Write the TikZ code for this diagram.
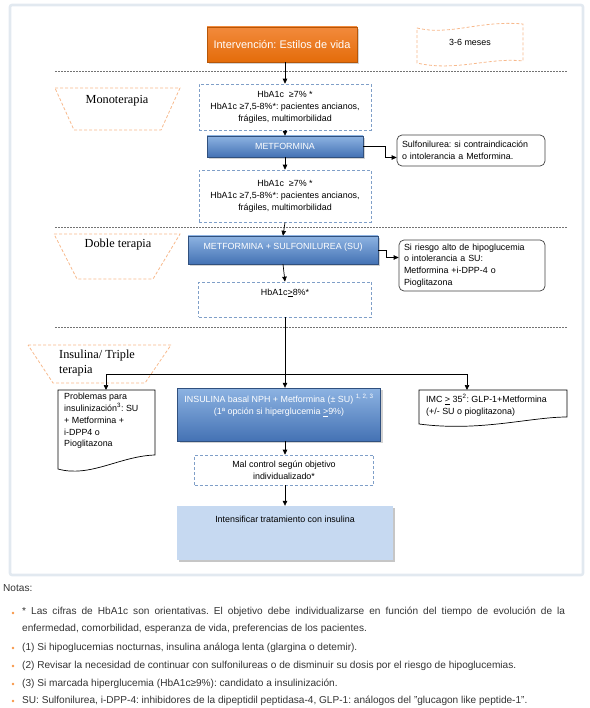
\documentclass[tikz,border=0pt]{standalone}
\usepackage{fontspec}
\setmainfont{Liberation Sans}
\newfontfamily\serifft{Liberation Serif}
\usetikzlibrary{arrows.meta,shadows,calc}
\frenchspacing
\definecolor{orfill}{HTML}{E46C0A}
\definecolor{ortop}{HTML}{F28A3C}
\definecolor{ordash}{HTML}{F7B98C}
\definecolor{bltop}{HTML}{8DB3E2}
\definecolor{blbot}{HTML}{4472B4}
\definecolor{bldash}{HTML}{7F9FC8}
\definecolor{lightbl}{HTML}{C6D9F1}
\definecolor{framec}{HTML}{E2E9F0}
\definecolor{notec}{HTML}{333333}
\definecolor{dotc}{HTML}{F79646}
\tikzset{
  fsmall/.style={font=\fontsize{8.9}{11.8}\selectfont},
  orbox/.style={rectangle, draw=orfill!80!black, line width=0.4pt, top color=ortop, bottom color=orfill, text=white, font=\fontsize{11}{13}\selectfont, drop shadow={shadow xshift=2pt, shadow yshift=-2pt, opacity=0.35}},
  blbox/.style={rectangle, draw=blbot!70!black, line width=0.4pt, top color=bltop, bottom color=blbot, text=white, fsmall, drop shadow={shadow xshift=2pt, shadow yshift=-2pt, opacity=0.35}},
  dbox/.style={rectangle, draw=bldash, dash pattern=on 3pt off 2pt, line width=0.6pt, fsmall, align=center},
  rbox/.style={rectangle, rounded corners=5pt, draw=black!75, line width=0.7pt, fsmall, align=left},
  txt/.style={fsmall, align=left, inner sep=0pt},
  trap/.style={draw=ordash, dash pattern=on 3pt off 2pt, line width=0.8pt},
  dotline/.style={draw=black!55, dash pattern=on 1.6pt off 1.4pt, line width=0.9pt},
  arr/.style={-{Triangle[length=5pt,width=4.5pt]}, line width=0.7pt, black},
  lin/.style={line width=0.7pt, black},
  serlab/.style={font=\serifft\fontsize{12.3}{15}\selectfont},
  note/.style={anchor=west, inner sep=0pt, text=notec, font=\fontsize{10.1}{17}\selectfont},
  bul/.style={circle, fill=dotc, inner sep=0pt, minimum size=2.6pt}
}
\begin{document}
\begin{tikzpicture}[x=1pt,y=-1pt]
\useasboundingbox (0,0) rectangle (589,708);
% frame
\draw[framec, line width=2.6pt, rounded corners=2pt] (10,5) rectangle (583,575);

% top
\node[orbox, minimum width=150pt, minimum height=35pt] (iv) at (282,44.5) {Intervención: Estilos de vida};
\draw[trap] (417,28) .. controls (450,36) and (480,20) .. (523,24) -- (523,61) .. controls (490,57) and (455,72) .. (417,63) -- cycle;
\node[fsmall] (meses) at (470,42) {3-6 meses};

\draw[dotline] (55,71) -- (567,71);

% monoterapia
\draw[trap] (55,88) -- (180,88) -- (161,130) -- (74,130) -- cycle;
\node[serlab] (mono) at (117,101) {Monoterapia};

\node[dbox, minimum width=172pt, minimum height=46pt] (b1) at (285,107)
  {HbA1c \ ≥7\% *\\HbA1c ≥7,5-8\%*: pacientes ancianos,\\frágiles, multimorbilidad};
\node[blbox, minimum width=156pt, minimum height=21pt] (met) at (285,146.5) {METFORMINA};
\node[rbox, minimum width=148pt, minimum height=31pt, text width=138pt] (sulf) at (471,150.5)
  {Sulfonilurea: si contraindicación\\o intolerancia a Metformina.};
\node[dbox, minimum width=172pt, minimum height=52pt] (b2) at (285,196)
  {HbA1c \ ≥7\% *\\HbA1c ≥7,5-8\%*: pacientes ancianos,\\frágiles, multimorbilidad};

\draw[arr] (iv.south -| b1.north) -- (b1.north);
\draw[arr] (b1.south) -- (met.north);
\draw[arr] (met.south) -- (b2.north);
\draw[arr] (met.east) -- ++(22,0) |- ($(sulf.west)+(0,7)$);

\draw[dotline] (55,227) -- (567,227);

% doble terapia
\draw[trap] (54,234) -- (180,234) -- (153,279) -- (77,279) -- cycle;
\node[serlab] (doble) at (118,245) {Doble terapia};

\node[blbox, minimum width=190pt, minimum height=28pt, text depth=8pt] (msu) at (283,250) {METFORMINA + SULFONILUREA (SU)};
\node[rbox, minimum width=146pt, minimum height=51pt, text width=136pt] (ries) at (472,265.5)
  {Si riesgo alto de hipoglucemia\\o intolerancia a SU:\\Metformina +i-DPP-4 o\\Pioglitazona};
\node[dbox, minimum width=173pt, minimum height=35pt] (b3) at (285,299.5) {};
\node[fsmall] (b3t) at (285,293) {HbA1c\underline{>}8\%*};

\draw[arr] (b2.south) -- (msu.north);
\draw[arr] (msu.south) -- (b3.north);
\draw[arr] (msu.east) -- ++(8,0) |- ($(ries.west)+(0,-8)$);

\draw[dotline] (55,327) -- (567,327);

% insulina / triple
\draw[trap] (28,345) -- (171,345) -- (145,383) -- (53,383) -- cycle;
\node[anchor=north west, align=left, inner sep=0pt, serlab, font=\serifft\fontsize{12.3}{15}\selectfont] (tri) at (59,350) {Insulina/ Triple\\terapia};

\coordinate (br) at (285,374);
\draw[lin] (b3.south) -- (br);

\node[blbox, minimum width=203pt, minimum height=53pt, align=center, text depth=20pt] (ins) at (279,414.5)
  {INSULINA basal NPH + Metformina (± SU) \textsuperscript{1, 2, 3}\\(1ª opción si hiperglucemia \underline{>}9\%)};

% problemas document
\draw[lin, fill=white] (58,390) -- (155,390) -- (155,455) .. controls (120,456) and (90,478) .. (58,469) -- cycle;
\node[txt, anchor=north west] (prob) at (64,393)
  {Problemas para\\insulinización\textsuperscript{3}: SU\\+ Metformina +\\i-DPP4 o\\Pioglitazona};
% IMC document
\draw[lin, fill=white] (419,390) -- (567,390) -- (567,417) .. controls (530,417) and (480,432) .. (419,424) -- cycle;
\node[txt, anchor=north west] (imc) at (426,394)
  {IMC \underline{>} 35\textsuperscript{2}: GLP-1+Metformina\\(+/- SU o pioglitazona)};

\coordinate (probtop) at (106,390);
\coordinate (imctop) at (467,390);
\draw[lin] (probtop |- br) -- (imctop |- br);
\draw[arr] (br) -- (br |- ins.north);
\draw[arr] (br -| probtop) -- (probtop);
\draw[arr] (br -| imctop) -- (imctop);

\node[dbox, minimum width=179pt, minimum height=30pt] (mal) at (284,470)
  {Mal control según objetivo\\individualizado*};
\node[rectangle, fill=lightbl, minimum width=216pt, minimum height=54pt, fsmall, text depth=28pt,
  drop shadow={shadow xshift=1.5pt, shadow yshift=-2pt, opacity=0.45}] (int) at (285,533)
  {Intensificar tratamiento con insulina};

\draw[arr] (br |- ins.south) -- (br |- mal.north);
\draw[arr] (br |- mal.south) -- (br |- int.north);

% notes
\node[note] (notas) at (3,588) {Notas:};
\node[bul] (d1) at (13,613) {};
\node[note, anchor=north west, text width=543pt, align=justify] (n1) at (22,607)
  {* Las cifras de HbA1c son orientativas. El objetivo debe individualizarse en función del tiempo de evolución de la \mbox{enfermedad,} comorbilidad, esperanza de vida, preferencias de los pacientes.};
\node[bul] (d2) at (13,648) {};
\node[note] (n2) at (22,648) {(1) Si hipoglucemias nocturnas, insulina análoga lenta (glargina o detemir).};
\node[bul] (d3) at (13,666) {};
\node[note] (n3) at (22,666) {(2) Revisar la necesidad de continuar con sulfonilureas o de disminuir su dosis por el riesgo de hipoglucemias.};
\node[bul] (d4) at (13,684) {};
\node[note] (n4) at (22,684) {(3) Si marcada hiperglucemia (HbA1c≥9\%): candidato a insulinización.};
\node[bul] (d5) at (13,701) {};
\node[note] (n5) at (22,701) {SU: Sulfonilurea, i-DPP-4: inhibidores de la dipeptidil peptidasa-4, GLP-1: análogos del "glucagon like peptide-1".};
\end{tikzpicture}
\end{document}
